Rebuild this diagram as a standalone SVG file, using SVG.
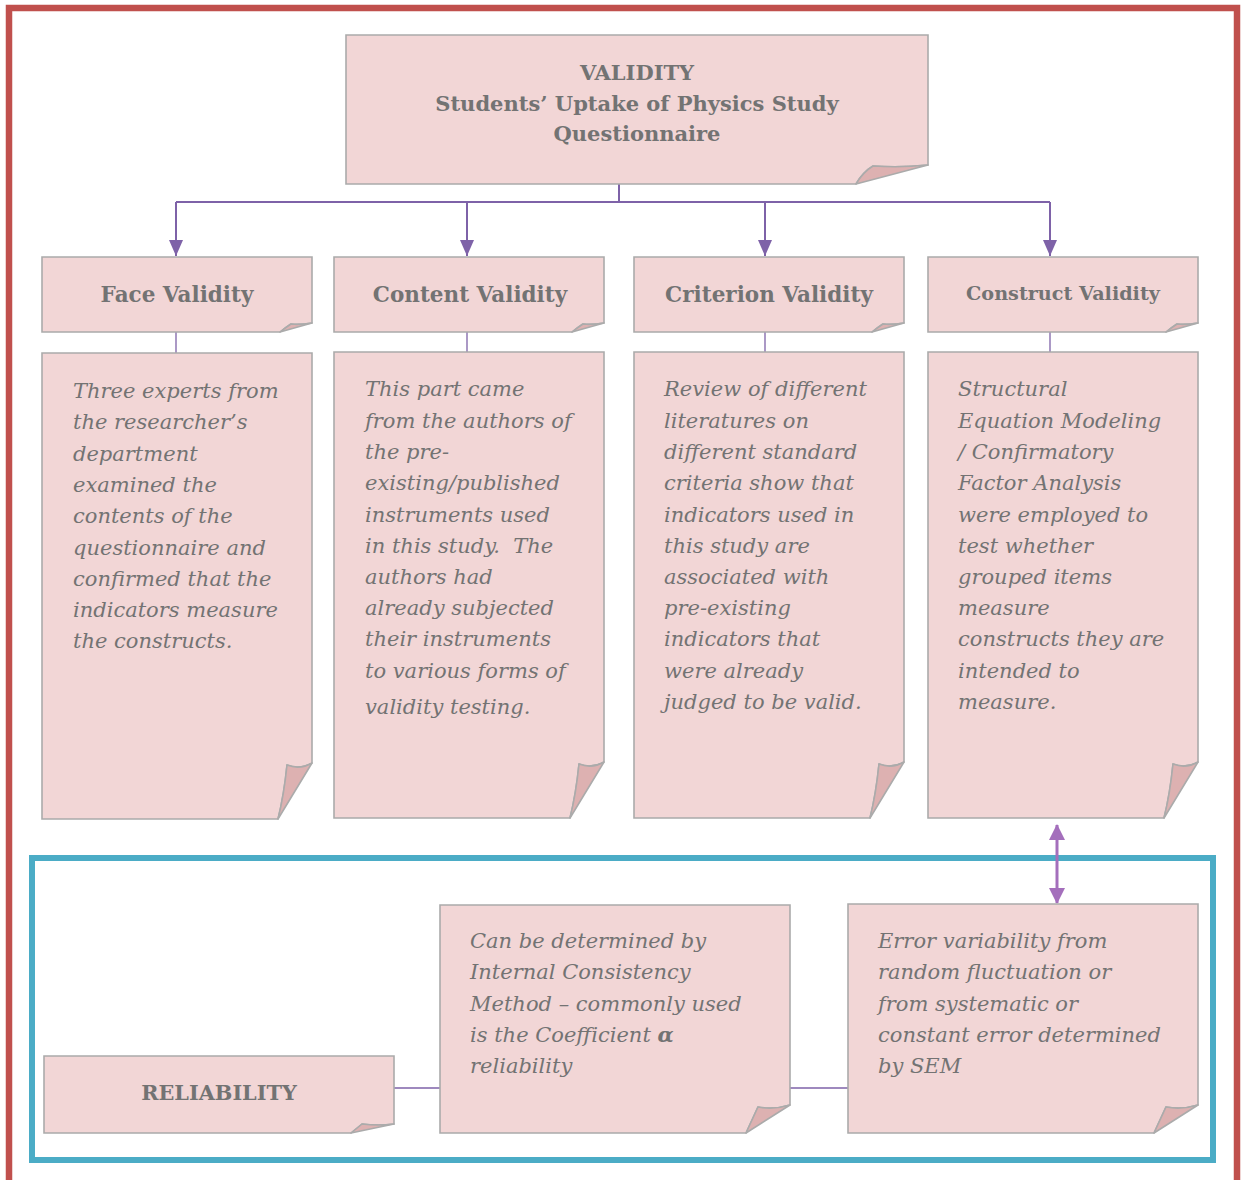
<svg xmlns="http://www.w3.org/2000/svg" width="1245" height="1180" viewBox="0 0 1245 1180">
  <defs>
    <style>
      .body { fill: #F2D6D6; stroke: #ABABAB; stroke-width: 1.6; }
      .fold { fill: #DDB1B1; stroke: #ABABAB; stroke-width: 1.6; stroke-linejoin: round; }
      .hd { font-family: "DejaVu Serif", "Liberation Serif", serif; font-weight: bold; fill: #737373; text-anchor: middle; }
      .tx { font-family: "DejaVu Serif", "Liberation Serif", serif; font-style: italic; fill: #737373; font-size: 21px; }
      .link { fill: none; stroke: #7E62A8; stroke-width: 2; }
      .thin { fill: none; stroke: #7E62A8; stroke-width: 1.3; }
    </style>
    <marker id="tri" viewBox="0 0 16 16" refX="15" refY="8" markerWidth="16" markerHeight="16" markerUnits="userSpaceOnUse" orient="auto-start-reverse">
      <path d="M0,0 L16,8 L0,16 Z" fill="#A46FBC"/>
    </marker>
    <marker id="triDown" viewBox="0 0 16 14" refX="16" refY="7" markerWidth="16" markerHeight="14" markerUnits="userSpaceOnUse" orient="auto">
      <path d="M0,0 L16,7 L0,14 Z" fill="#7E62A8"/>
    </marker>
    <!-- page-curl outlines, in box-local coordinates -->
    <path id="hdBody" d="M0,0 H270 V66 Q258,68 249,67 Q243,71 238,75 H0 Z"/>
    <path id="hdFold" d="M270,66 L238,75 Q243,71 249,67 Q258,68 270,66 Z"/>
    <path id="txBody" d="M0,0 H270 V410 Q258,417 245,412 Q242,442 236,466 H0 Z"/>
    <path id="txFold" d="M270,410 L236,466 Q242,442 245,412 Q258,417 270,410 Z"/>
  </defs>

  <rect width="1245" height="1180" fill="#FFFFFF"/>

  <!-- outer frames -->
  <rect x="9" y="8" width="1228" height="1190" fill="none" stroke="#C0504D" stroke-width="6.5"/>
  <rect x="32" y="858" width="1181" height="302" fill="none" stroke="#4BACC6" stroke-width="6"/>

  <!-- connectors -->
  <g id="connectors">
    <path class="link" d="M619,184 V202"/>
    <path class="link" d="M176,202 H1050"/>
    <path class="link" d="M176,202 V256" marker-end="url(#triDown)"/>
    <path class="link" d="M467,202 V256" marker-end="url(#triDown)"/>
    <path class="link" d="M765,202 V256" marker-end="url(#triDown)"/>
    <path class="link" d="M1050,202 V256" marker-end="url(#triDown)"/>
    <path class="thin" d="M176,332 V353"/>
    <path class="thin" d="M467,332 V352"/>
    <path class="thin" d="M765,332 V352"/>
    <path class="thin" d="M1050,332 V352"/>
    <path d="M1057,825 V903" fill="none" stroke="#A46FBC" stroke-width="3" marker-start="url(#tri)" marker-end="url(#tri)"/>
    <path class="thin" d="M394,1088 H440"/>
    <path class="thin" d="M790,1088 H848"/>
  </g>

  <!-- title -->
  <g id="validity">
    <path class="body" d="M346,35 H928 V165 Q900,168 873,166 Q863,172 856,184 H346 Z"/>
    <path class="fold" d="M928,165 L856,184 Q863,172 873,166 Q900,168 928,165 Z"/>
    <text class="hd" x="637" y="80" font-size="21">VALIDITY</text>
    <text class="hd" x="637" y="111" font-size="21">Students’ Uptake of Physics Study</text>
    <text class="hd" x="637" y="141" font-size="21">Questionnaire</text>
  </g>

  <!-- validity types -->
  <g id="face-validity" transform="translate(42,257)">
    <use href="#hdBody" class="body"/><use href="#hdFold" class="fold"/>
    <text class="hd" x="135" y="45" font-size="21.5">Face Validity</text>
  </g>
  <g id="content-validity" transform="translate(334,257)">
    <use href="#hdBody" class="body"/><use href="#hdFold" class="fold"/>
    <text class="hd" x="136" y="45" font-size="21.5">Content Validity</text>
  </g>
  <g id="criterion-validity" transform="translate(634,257)">
    <use href="#hdBody" class="body"/><use href="#hdFold" class="fold"/>
    <text class="hd" x="135" y="45" font-size="21.5">Criterion Validity</text>
  </g>
  <g id="construct-validity" transform="translate(928,257)">
    <use href="#hdBody" class="body"/><use href="#hdFold" class="fold"/>
    <text class="hd" x="135" y="43" font-size="19.2">Construct Validity</text>
  </g>

  <!-- descriptions -->
  <g id="face-text" transform="translate(42,353)">
    <use href="#txBody" class="body"/><use href="#txFold" class="fold"/>
    <text class="tx">
      <tspan x="31" y="45">Three experts from</tspan>
      <tspan x="31" y="76">the researcher’s</tspan>
      <tspan x="31" y="108">department</tspan>
      <tspan x="31" y="139">examined the</tspan>
      <tspan x="31" y="170">contents of the</tspan>
      <tspan x="31" y="202">questionnaire and</tspan>
      <tspan x="31" y="233">confirmed that the</tspan>
      <tspan x="31" y="264">indicators measure</tspan>
      <tspan x="31" y="295">the constructs.</tspan>
    </text>
  </g>
  <g id="content-text" transform="translate(334,352)">
    <use href="#txBody" class="body"/><use href="#txFold" class="fold"/>
    <text class="tx">
      <tspan x="31" y="44">This part came</tspan>
      <tspan x="31" y="76">from the authors of</tspan>
      <tspan x="31" y="107">the pre-</tspan>
      <tspan x="31" y="138">existing/published</tspan>
      <tspan x="31" y="170">instruments used</tspan>
      <tspan x="31" y="201">in this study.&#160; The</tspan>
      <tspan x="31" y="232">authors had</tspan>
      <tspan x="31" y="263">already subjected</tspan>
      <tspan x="31" y="294">their instruments</tspan>
      <tspan x="31" y="326">to various forms of</tspan>
      <tspan x="31" y="362">validity testing.</tspan>
    </text>
  </g>
  <g id="criterion-text" transform="translate(634,352)">
    <use href="#txBody" class="body"/><use href="#txFold" class="fold"/>
    <text class="tx">
      <tspan x="30" y="44">Review of different</tspan>
      <tspan x="30" y="76">literatures on</tspan>
      <tspan x="30" y="107">different standard</tspan>
      <tspan x="30" y="138">criteria show that</tspan>
      <tspan x="30" y="170">indicators used in</tspan>
      <tspan x="30" y="201">this study are</tspan>
      <tspan x="30" y="232">associated with</tspan>
      <tspan x="30" y="263">pre-existing</tspan>
      <tspan x="30" y="294">indicators that</tspan>
      <tspan x="30" y="326">were already</tspan>
      <tspan x="30" y="357">judged to be valid.</tspan>
    </text>
  </g>
  <g id="construct-text" transform="translate(928,352)">
    <use href="#txBody" class="body"/><use href="#txFold" class="fold"/>
    <text class="tx">
      <tspan x="30" y="44">Structural</tspan>
      <tspan x="30" y="76">Equation Modeling</tspan>
      <tspan x="30" y="107">/ Confirmatory</tspan>
      <tspan x="30" y="138">Factor Analysis</tspan>
      <tspan x="30" y="170">were employed to</tspan>
      <tspan x="30" y="201">test whether</tspan>
      <tspan x="30" y="232">grouped items</tspan>
      <tspan x="30" y="263">measure</tspan>
      <tspan x="30" y="294">constructs they are</tspan>
      <tspan x="30" y="326">intended to</tspan>
      <tspan x="30" y="357">measure.</tspan>
    </text>
  </g>

  <!-- reliability -->
  <g id="reliability">
    <path class="body" d="M44,1056 H394 V1124 Q378,1126 362,1124 Q356,1129 351,1133 H44 Z"/>
    <path class="fold" d="M394,1124 L351,1133 Q356,1129 362,1124 Q378,1126 394,1124 Z"/>
    <text class="hd" x="219" y="1100" font-size="20.8">RELIABILITY</text>
  </g>
  <g id="internal-consistency">
    <path class="body" d="M440,905 H790 V1105 Q774,1110 758,1107 Q752,1120 746,1133 H440 Z"/>
    <path class="fold" d="M790,1105 L746,1133 Q752,1120 758,1107 Q774,1110 790,1105 Z"/>
    <text class="tx">
      <tspan x="470" y="948">Can be determined by</tspan>
      <tspan x="470" y="979">Internal Consistency</tspan>
      <tspan x="470" y="1011">Method – commonly used</tspan>
      <tspan x="470" y="1042">is the Coefficient <tspan font-weight="bold">α</tspan></tspan>
      <tspan x="470" y="1073">reliability</tspan>
    </text>
  </g>
  <g id="error-variability">
    <path class="body" d="M848,904 H1198 V1105 Q1182,1110 1166,1107 Q1160,1120 1154,1133 H848 Z"/>
    <path class="fold" d="M1198,1105 L1154,1133 Q1160,1120 1166,1107 Q1182,1110 1198,1105 Z"/>
    <text class="tx">
      <tspan x="878" y="948">Error variability from</tspan>
      <tspan x="878" y="979">random fluctuation or</tspan>
      <tspan x="878" y="1011">from systematic or</tspan>
      <tspan x="878" y="1042">constant error determined</tspan>
      <tspan x="878" y="1073">by SEM</tspan>
    </text>
  </g>
</svg>
